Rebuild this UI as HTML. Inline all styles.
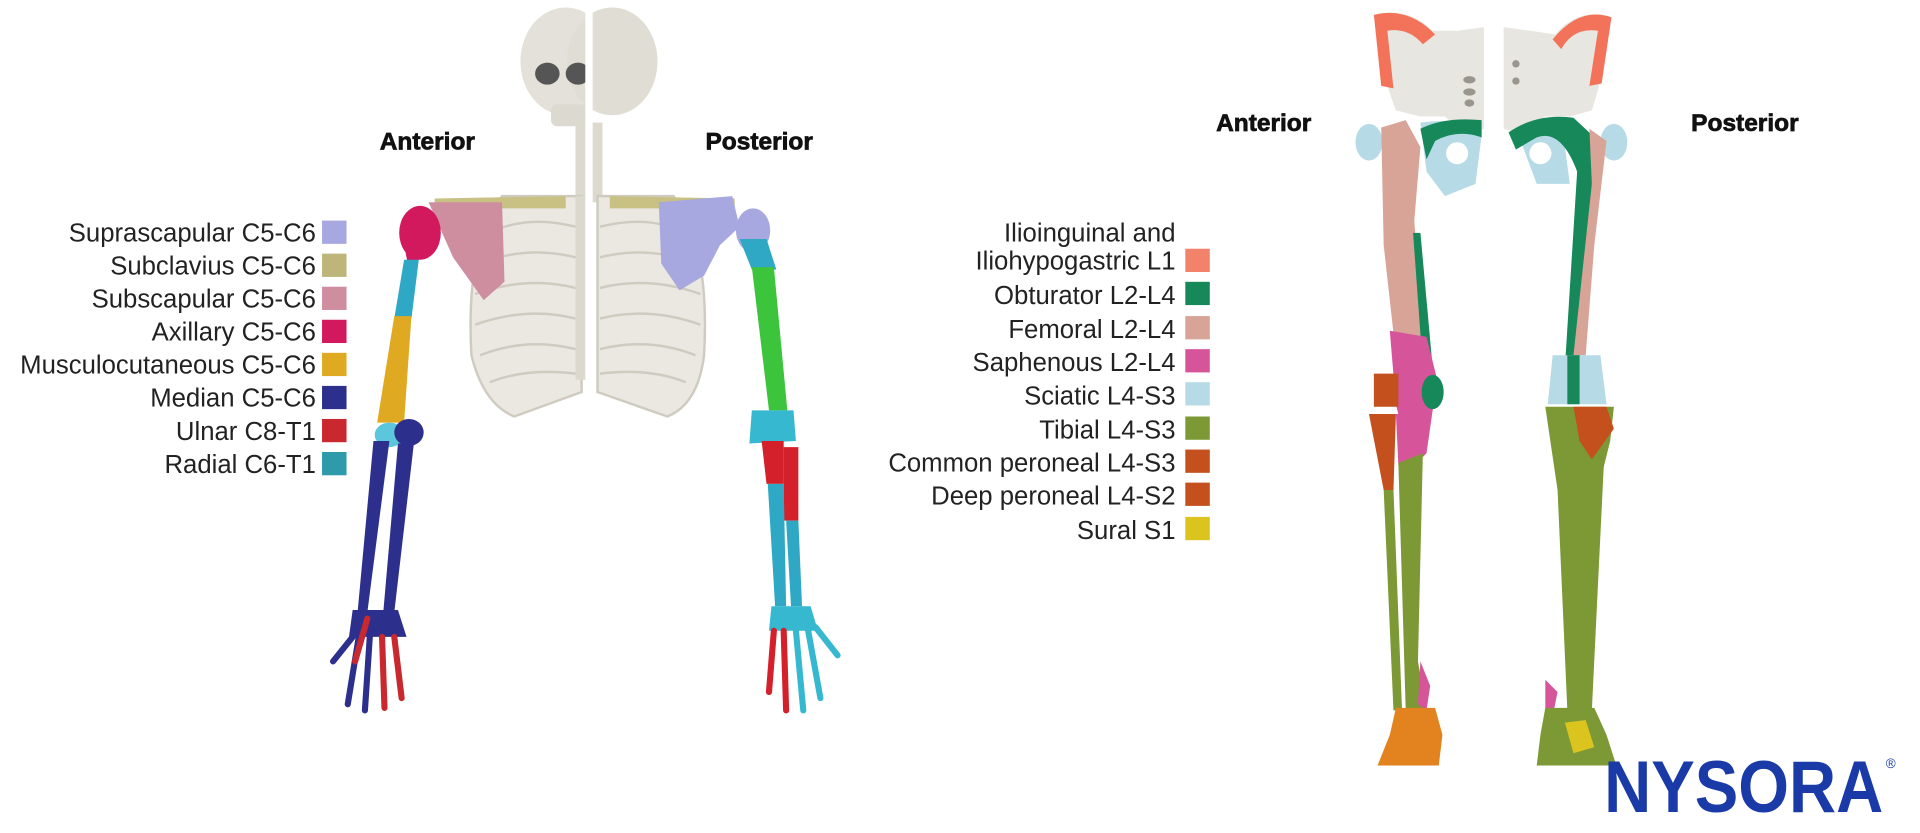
<!DOCTYPE html>
<html><head><meta charset="utf-8"><style>
html,body{margin:0;padding:0;background:#fff;width:1920px;height:833px;overflow:hidden}
svg{display:block}
.lg{font-family:"Liberation Sans",sans-serif;font-size:21px;fill:#222}
.hd{font-family:"Liberation Sans",sans-serif;font-size:20px;font-weight:bold;fill:#111;stroke:#111;stroke-width:0.6}
</style></head><body>
<svg width="1920" height="833" viewBox="0 0 1568 680" xmlns="http://www.w3.org/2000/svg">
<rect width="1568" height="680" fill="#fff"/>
<!-- skull -->
<ellipse cx="462" cy="50" rx="37" ry="44" fill="#e4e1da"/>
<ellipse cx="500" cy="50" rx="37" ry="44" fill="#e0ddd5"/>
<ellipse cx="447" cy="60" rx="10" ry="9" fill="#555"/>
<ellipse cx="472" cy="60" rx="10" ry="9" fill="#555"/>
<rect x="450" y="85" width="30" height="18" rx="5" fill="#dcd9d0"/>
<rect x="470" y="100" width="22" height="65" fill="#ddd9cf"/>
<!-- ribcage -->
<path d="M410 160 Q380 200 385 290 Q395 330 420 340 L475 320 L475 160 Z" fill="#ebe8e1" stroke="#cfcbc1" stroke-width="2"/>
<path d="M488 160 L488 320 L545 340 Q570 330 575 290 Q580 200 550 160 Z" fill="#ebe8e1" stroke="#cfcbc1" stroke-width="2"/>
<g stroke="#cfcbc1" stroke-width="2" fill="none">
<path d="M400 190 Q430 175 470 185"/><path d="M392 215 Q430 200 470 210"/><path d="M388 240 Q430 225 470 235"/><path d="M388 265 Q430 250 470 260"/><path d="M392 290 Q430 275 470 285"/><path d="M400 312 Q430 300 470 305"/>
<path d="M560 190 Q530 175 490 185"/><path d="M568 215 Q530 200 490 210"/><path d="M572 240 Q530 225 490 235"/><path d="M572 265 Q530 250 490 260"/><path d="M568 290 Q530 275 490 285"/><path d="M560 312 Q530 300 490 305"/>
</g>
<rect x="470" y="160" width="12" height="150" fill="#dcd8ce"/>
<rect x="478" y="0" width="6" height="310" fill="#fff"/>
<path d="M355 162 L462 160 L462 170 L355 170 Z" fill="#c9c083"/>
<path d="M498 160 L600 162 L600 170 L498 170 Z" fill="#c9c083"/>
<path d="M350 165 L410 165 L412 230 L395 245 L370 210 Z" fill="#cf8ea0"/>
<!-- anterior arm -->
<ellipse cx="343" cy="190" rx="17" ry="22" fill="#d3195e"/>
<path d="M330 200 L350 200 L340 215 L333 215 Z" fill="#d3195e"/>
<path d="M330 212 L342 212 L336 260 L322 260 Z" fill="#2ea8c5"/>
<path d="M322 258 L336 258 L330 345 L308 345 Z" fill="#dfaa22"/>
<ellipse cx="318" cy="355" rx="12" ry="10" fill="#5cc6dc"/>
<ellipse cx="334" cy="353" rx="12" ry="11" fill="#2c2f8c"/>
<path d="M305 360 L318 360 L300 500 L292 500 Z" fill="#2c2f8c"/>
<path d="M325 362 L338 362 L322 500 L313 500 Z" fill="#2c2f8c"/>
<path d="M288 498 L325 498 L332 520 L285 520 Z" fill="#2c2f8c"/>
<g stroke-width="5" stroke-linecap="round">
<line x1="288" y1="520" x2="272" y2="540" stroke="#2c2f8c"/>
<line x1="293" y1="520" x2="284" y2="575" stroke="#2c2f8c"/>
<line x1="302" y1="520" x2="298" y2="580" stroke="#2c2f8c"/>
<line x1="312" y1="520" x2="314" y2="578" stroke="#c8282e"/>
<line x1="322" y1="520" x2="328" y2="570" stroke="#c8282e"/>
<line x1="300" y1="505" x2="290" y2="540" stroke="#c8282e"/>
</g>
<!-- posterior scapula/arm -->
<path d="M538 165 L598 160 L604 185 L588 200 L575 225 L555 237 L540 215 Z" fill="#a7a8e0"/>
<ellipse cx="615" cy="188" rx="14" ry="18" fill="#a7a8e0"/>
<path d="M604 195 L626 195 L634 220 L614 220 Z" fill="#2ea8c5"/>
<path d="M614 218 L632 218 L643 335 L628 335 Z" fill="#3cc43c"/>
<path d="M614 335 L648 335 L650 360 L612 362 Z" fill="#35b8d0"/>
<path d="M622 360 L640 360 L640 395 L626 395 Z" fill="#d4202a"/>
<path d="M640 365 L652 365 L652 425 L640 425 Z" fill="#d4202a"/>
<path d="M627 395 L640 395 L642 495 L633 495 Z" fill="#2ea8c5"/>
<path d="M642 425 L652 425 L655 495 L646 495 Z" fill="#2ea8c5"/>
<path d="M630 495 L662 495 L668 515 L628 515 Z" fill="#35b8d0"/>
<g stroke-width="5" stroke-linecap="round">
<line x1="632" y1="515" x2="628" y2="565" stroke="#d4202a"/>
<line x1="640" y1="515" x2="642" y2="580" stroke="#d4202a"/>
<line x1="650" y1="515" x2="656" y2="580" stroke="#35b8d0"/>
<line x1="660" y1="515" x2="670" y2="570" stroke="#35b8d0"/>
<line x1="666" y1="512" x2="684" y2="535" stroke="#35b8d0"/>
</g>
<text class="hd" x="349" y="122" text-anchor="middle">Anterior</text>
<text class="hd" x="620" y="122" text-anchor="middle">Posterior</text>
<g class="lg" text-anchor="end">
<text x="258" y="197">Suprascapular C5-C6</text>
<text x="258" y="224">Subclavius C5-C6</text>
<text x="258" y="251">Subscapular C5-C6</text>
<text x="258" y="278">Axillary C5-C6</text>
<text x="258" y="305">Musculocutaneous C5-C6</text>
<text x="258" y="332">Median C5-C6</text>
<text x="258" y="359">Ulnar C8-T1</text>
<text x="258" y="386">Radial C6-T1</text>
</g>
<rect x="263" y="180" width="20" height="19" fill="#a7a8e0"/>
<rect x="263" y="207" width="20" height="19" fill="#bdb57a"/>
<rect x="263" y="234" width="20" height="19" fill="#cf8ea0"/>
<rect x="263" y="261" width="20" height="19" fill="#d3195e"/>
<rect x="263" y="288" width="20" height="19" fill="#dfaa22"/>
<rect x="263" y="315" width="20" height="19" fill="#2c2f8c"/>
<rect x="263" y="342" width="20" height="19" fill="#c8282e"/>
<rect x="263" y="369" width="20" height="19" fill="#2e9aaa"/>
<g class="lg" text-anchor="end">
<text x="960" y="197">Ilioinguinal and</text>
<text x="960" y="220">Iliohypogastric L1</text>
<text x="960" y="248">Obturator L2-L4</text>
<text x="960" y="276">Femoral L2-L4</text>
<text x="960" y="303">Saphenous L2-L4</text>
<text x="960" y="330">Sciatic L4-S3</text>
<text x="960" y="358">Tibial L4-S3</text>
<text x="960" y="385">Common peroneal L4-S3</text>
<text x="960" y="412">Deep peroneal L4-S2</text>
<text x="960" y="440">Sural S1</text>
</g>
<rect x="968" y="203" width="20" height="19" fill="#f2836a"/>
<rect x="968" y="230" width="20" height="19" fill="#16885a"/>
<rect x="968" y="258" width="20" height="19" fill="#d7a497"/>
<rect x="968" y="285" width="20" height="19" fill="#d6559a"/>
<rect x="968" y="312" width="20" height="19" fill="#b7dbe6"/>
<rect x="968" y="340" width="20" height="19" fill="#7c9935"/>
<rect x="968" y="367" width="20" height="19" fill="#c4501e"/>
<rect x="968" y="394" width="20" height="19" fill="#c4501e"/>
<rect x="968" y="422" width="20" height="19" fill="#dcc41e"/>
<!-- Lower body -->
<text class="hd" x="1032" y="107" text-anchor="middle">Anterior</text>
<text class="hd" x="1425" y="107" text-anchor="middle">Posterior</text>
<!-- pelvis -->
<path d="M1122 12 Q1150 5 1170 25 L1190 25 L1212 22 L1212 105 L1198 110 L1180 95 L1160 95 L1140 90 Q1128 60 1122 12 Z" fill="#e8e6e0"/>
<path d="M1122 12 Q1150 5 1172 28 L1162 36 Q1150 22 1133 25 L1138 72 L1128 70 Z" fill="#f2725a"/>
<path d="M1228 22 L1250 25 L1270 28 Q1290 5 1316 14 Q1310 60 1300 90 L1282 95 L1262 95 L1244 110 L1228 105 Z" fill="#e8e6e0"/>
<path d="M1268 32 Q1290 5 1316 14 L1308 68 L1298 70 L1305 25 Q1285 22 1275 40 Z" fill="#f2725a"/>
<g fill="#9a968e"><ellipse cx="1200" cy="65" rx="5" ry="3"/><ellipse cx="1200" cy="75" rx="5" ry="3"/><ellipse cx="1200" cy="84" rx="4" ry="3"/><ellipse cx="1238" cy="52" rx="3" ry="3"/><ellipse cx="1238" cy="66" rx="3" ry="3"/></g>
<rect x="1212" y="0" width="10" height="170" fill="#fff"/>
<!-- anterior leg -->
<ellipse cx="1118" cy="116" rx="11" ry="15" fill="#b7dbe6"/>
<path d="M1160 100 Q1195 95 1210 110 L1205 150 L1180 160 L1165 140 Z" fill="#b7dbe6"/>
<path d="M1160 105 Q1180 95 1210 98 L1210 112 Q1190 105 1172 115 L1165 130 Z" fill="#16885a"/>
<ellipse cx="1190" cy="125" rx="9" ry="9" fill="#fff"/>
<path d="M1128 104 L1148 98 L1160 120 L1155 180 L1163 290 L1140 290 L1130 200 Z" fill="#d7a497"/>
<path d="M1154 190 L1160 190 L1170 300 L1162 300 Z" fill="#16885a"/>
<path d="M1135 270 L1165 275 L1175 315 L1170 335 L1165 370 L1150 372 L1140 330 Z" fill="#d6559a"/>
<ellipse cx="1170" cy="320" rx="9" ry="14" fill="#16885a"/>
<path d="M1122 305 L1142 305 L1142 332 L1122 332 Z" fill="#c4501e"/>
<path d="M1118 338 L1140 338 L1138 400 L1130 400 Z" fill="#c4501e"/>
<path d="M1140 338 L1160 338 L1165 370 L1155 380 L1142 380 Z" fill="#d6559a"/>
<path d="M1130 400 L1138 400 L1145 580 L1138 580 Z" fill="#7c9935"/>
<path d="M1142 378 L1162 370 L1158 540 L1165 580 L1148 580 Z" fill="#7c9935"/>
<path d="M1160 540 L1168 560 L1165 580 L1158 575 Z" fill="#d6559a"/>
<path d="M1140 578 L1172 578 L1178 600 L1175 625 L1125 625 L1135 600 Z" fill="#e2831f"/>
<!-- posterior leg -->
<ellipse cx="1318" cy="116" rx="11" ry="15" fill="#b7dbe6"/>
<path d="M1240 110 Q1250 95 1275 97 L1282 150 L1255 150 Z" fill="#b7dbe6"/>
<path d="M1232 108 Q1255 92 1285 96 L1300 110 L1305 140 L1290 300 L1278 300 L1288 140 Q1275 105 1255 112 L1238 122 Z" fill="#16885a"/>
<ellipse cx="1258" cy="125" rx="9" ry="9" fill="#fff"/>
<path d="M1298 105 L1312 115 L1302 200 L1295 290 L1285 290 L1300 150 Z" fill="#d7a497"/>
<path d="M1268 290 L1307 290 L1312 330 L1264 330 Z" fill="#b7dbe6"/>
<path d="M1280 290 L1290 290 L1290 330 L1280 330 Z" fill="#16885a"/>
<path d="M1262 332 L1318 332 L1315 360 L1305 400 L1295 580 L1280 580 L1272 400 Z" fill="#7c9935"/>
<path d="M1285 332 L1312 332 L1318 350 L1300 375 L1290 360 Z" fill="#c4501e"/>
<path d="M1302 375 L1310 375 L1300 580 L1294 580 Z" fill="#7c9935"/>
<path d="M1262 555 L1272 565 L1268 585 L1262 580 Z" fill="#d6559a"/>
<path d="M1262 578 L1302 578 L1312 600 L1320 625 L1255 625 L1258 600 Z" fill="#7c9935"/>
<path d="M1278 590 L1295 588 L1302 610 L1285 615 Z" fill="#dcc41e"/>
<text x="1310" y="663" font-family="Liberation Sans, sans-serif" font-weight="bold" font-size="60" fill="#1a3aa8" textLength="228" lengthAdjust="spacingAndGlyphs">NYSORA</text>
<text x="1540" y="627" font-family="Liberation Sans, sans-serif" font-size="11" fill="#1a3aa8">®</text>
</svg>
</body></html>
